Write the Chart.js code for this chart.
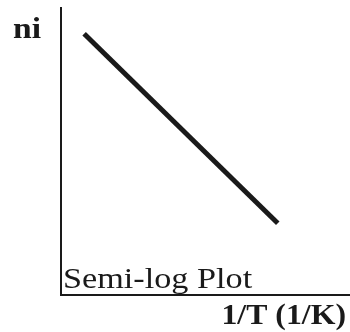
<!DOCTYPE html>
<html>
<head>
<meta charset="utf-8">
<script src="https://cdn.jsdelivr.net/npm/chart.js@4"></script>
<style>
  html, body { margin: 0; padding: 0; background: #fff; }
  #wrap { width: 350px; height: 332px; position: relative; }
</style>
</head>
<body>
<div id="wrap"><canvas id="c"></canvas></div>
<script>
// Semi-log sketch: ln(ni) falls linearly with 1/T
const invT = [0.8, 7.5];
const lnNi = [9.1, 2.5];
const xTitle = '1/T (1/K)';
const yTitle = 'ni';
const note = 'Semi-log Plot';

const points = invT.map((x, i) => ({ x: x, y: lnNi[i] }));

// Wide serif lettering drawn on top of the axes
const labelPlugin = {
  id: 'labels',
  afterDraw(chart) {
    const ctx = chart.ctx;
    const a = chart.chartArea;
    const put = (text, font, x, y, align, sx) => {
      ctx.save();
      ctx.font = font;
      ctx.fillStyle = '#1a1a1a';
      ctx.textBaseline = 'alphabetic';
      ctx.textAlign = align;
      ctx.translate(x, y);
      ctx.scale(sx, 1);
      ctx.fillText(text, 0, 0);
      ctx.restore();
    };
    put(yTitle, 'bold 30px "Liberation Serif", serif', 13, 38, 'left', 1.12);
    put(note, '29px "Liberation Serif", serif', a.left + 2, 288, 'left', 1.18);
    put(xTitle, 'bold 30px "Liberation Serif", serif', 346, 324, 'right', 1.06);
  }
};

new Chart(document.getElementById('c'), {
  type: 'line',
  data: {
    datasets: [{
      data: points,
      borderColor: '#1a1a1a',
      borderWidth: 5,
      pointRadius: 0,
      borderCapStyle: 'butt',
      fill: false
    }]
  },
  options: {
    responsive: true,
    maintainAspectRatio: false,
    animation: false,
    layout: { padding: { left: 61, top: 8, right: 0, bottom: 37 } },
    plugins: { legend: { display: false }, tooltip: { enabled: false } },
    scales: {
      x: {
        type: 'linear', min: 0, max: 10,
        grid: { display: false, drawTicks: false },
        ticks: { display: false },
        border: { display: true, color: '#1a1a1a', width: 2 }
      },
      y: {
        type: 'linear', min: 0, max: 10,
        grid: { display: false, drawTicks: false },
        ticks: { display: false },
        border: { display: true, color: '#1a1a1a', width: 2 }
      }
    }
  },
  plugins: [labelPlugin]
});
</script>
</body>
</html>
